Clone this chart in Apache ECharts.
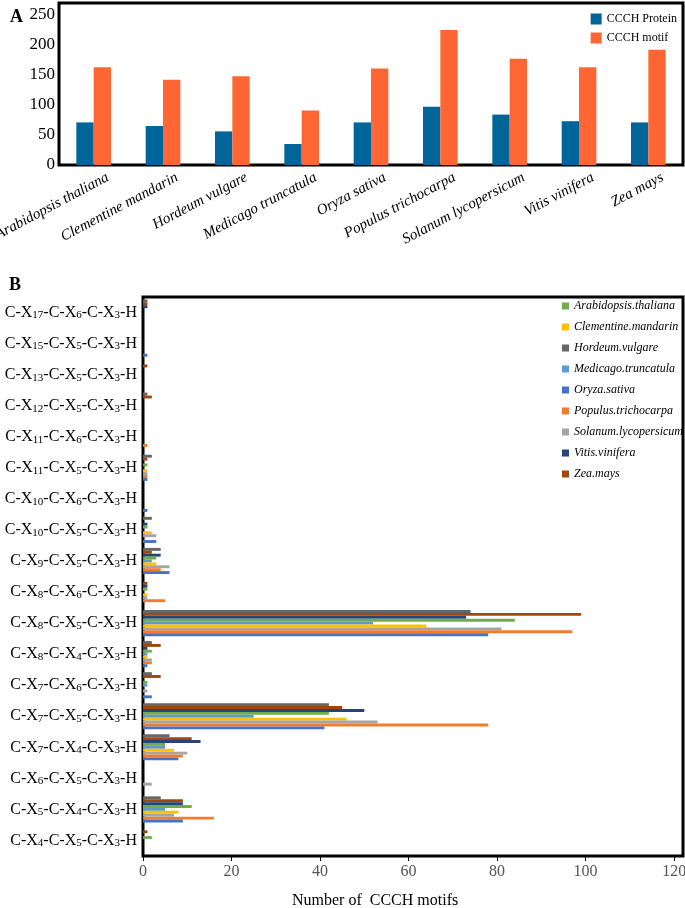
<!DOCTYPE html>
<html lang="en">
<head>
    <meta charset="UTF-8">
    <title>CCCH</title>
    <script src="https://cdn.jsdelivr.net/npm/echarts@6/dist/echarts.min.js"></script>
</head>
<style>
    body{
        margin: 0;
        background-color: #fff;
    }
    #chart{
        width: 685px;
        height: 908px;
    }
</style>
<body>
    <div id="chart"></div>
    <script>
        // panel A
        var species=['Arabidopsis thaliana','Clementine mandarin','Hordeum vulgare','Medicago truncatula','Oryza sativa','Populus trichocarpa','Solanum lycopersicum','Vitis vinifera','Zea mays'];
        var proteinCounts=[71,65,56,35,71,97,84,73,71];
        var motifCounts=[163,142,148,91,161,225,177,163,192];

        // panel B, motif types from bottom to top
        var motifTypes=['C-X4-C-X5-C-X3-H','C-X5-C-X4-C-X3-H','C-X6-C-X5-C-X3-H','C-X7-C-X4-C-X3-H','C-X7-C-X5-C-X3-H','C-X7-C-X6-C-X3-H','C-X8-C-X4-C-X3-H','C-X8-C-X5-C-X3-H','C-X8-C-X6-C-X3-H','C-X9-C-X5-C-X3-H','C-X10-C-X5-C-X3-H','C-X10-C-X6-C-X3-H','C-X11-C-X5-C-X3-H','C-X11-C-X6-C-X3-H','C-X12-C-X5-C-X3-H','C-X13-C-X5-C-X3-H','C-X15-C-X5-C-X3-H','C-X17-C-X6-C-X3-H'];
        var arabidopsis=[2,11,0,5,42,1,2,84,1,3,1,0,1,0,0,0,0,0];
        var clementine=[0,8,0,7,46,0,1,64,1,3,2,0,1,0,0,0,0,0];
        var hordeum=[0,4,0,6,42,2,2,74,0,4,2,0,2,0,1,0,0,1];
        var medicago=[0,5,0,5,25,1,1,52,0,2,0,0,0,0,0,0,0,0];
        var oryza=[0,9,0,8,41,2,1,78,0,6,3,1,1,0,0,0,1,0];
        var populus=[0,16,0,9,78,0,2,97,5,4,0,0,1,1,0,0,0,0];
        var solanum=[0,7,2,10,53,1,2,81,1,6,3,0,1,0,0,0,0,0];
        var vitis=[0,9,0,13,50,0,1,73,1,4,1,0,0,0,0,0,0,1];
        var zea=[1,9,0,11,45,4,4,99,1,2,0,0,1,0,2,1,0,1];

        var serif='"Liberation Serif","DejaVu Serif",serif';

        // order of bars inside one group, top to bottom
        var groupOrder=[
            ['Hordeum.vulgare',hordeum,'#666666'],
            ['Zea.mays',zea,'#9E480E'],
            ['Vitis.vinifera',vitis,'#264478'],
            ['Arabidopsis.thaliana',arabidopsis,'#70AD47'],
            ['Medicago.truncatula',medicago,'#5B9BD5'],
            ['Clementine.mandarin',clementine,'#FFC000'],
            ['Solanum.lycopersicum',solanum,'#A5A5A5'],
            ['Populus.trichocarpa',populus,'#ED7D31'],
            ['Oryza.sativa',oryza,'#4472C4']
        ];
        var seriesB=groupOrder.map(function(g){
            return {
                name:g[0],
                type:'bar',
                xAxisIndex:1,
                yAxisIndex:1,
                data:g[1],
                barGap:'0%',
                barCategoryGap:'16%',
                itemStyle:{color:g[2]}
            };
        });

        var chart=echarts.init(document.getElementById('chart'));
        chart.setOption({
            animation:false,
            title:[
                {text:'A',left:5,top:3,textStyle:{fontFamily:serif,fontSize:18,fontWeight:'bold',color:'#000'}},
                {text:'B',left:4,top:271,textStyle:{fontFamily:serif,fontSize:18,fontWeight:'bold',color:'#000'}},
                {text:'Number of  CCCH motifs',left:287,top:888,textStyle:{fontFamily:serif,fontSize:16,fontWeight:'normal',color:'#000'}}
            ],
            legend:[
                {
                    data:['CCCH Protein','CCCH motif'],
                    orient:'vertical',
                    right:3,
                    top:8,
                    icon:'rect',
                    itemWidth:11,
                    itemHeight:11,
                    itemGap:7,
                    textStyle:{fontFamily:serif,fontSize:12,color:'#000'}
                },
                {
                    data:['Arabidopsis.thaliana','Clementine.mandarin','Hordeum.vulgare','Medicago.truncatula','Oryza.sativa','Populus.trichocarpa','Solanum.lycopersicum','Vitis.vinifera','Zea.mays'],
                    orient:'vertical',
                    left:557,
                    top:295,
                    icon:'rect',
                    itemWidth:7,
                    itemHeight:7,
                    itemGap:9,
                    textStyle:{fontFamily:serif,fontSize:12,fontStyle:'italic',color:'#000'}
                }
            ],
            grid:[
                {left:59,right:2,top:3,height:162,outerBoundsMode:'none',show:true,borderColor:'#000',borderWidth:3,backgroundColor:'#fff'},
                {left:143,right:2,top:297,bottom:52,outerBoundsMode:'none',show:true,borderColor:'#000',borderWidth:3,backgroundColor:'#fff'}
            ],
            xAxis:[
                {
                    type:'category',
                    gridIndex:0,
                    data:species,
                    axisLine:{show:false},
                    axisTick:{show:false},
                    axisLabel:{interval:0,rotate:28,margin:19,padding:[0,-16,0,0],fontFamily:serif,fontSize:15,fontStyle:'italic',color:'#000'}
                },
                {
                    type:'value',
                    gridIndex:1,
                    min:0,
                    max:122,
                    interval:20,
                    splitLine:{show:false},
                    axisLine:{show:false},
                    axisTick:{show:true,length:5,lineStyle:{color:'#000'}},
                    axisLabel:{showMaxLabel:false,margin:8,fontFamily:serif,fontSize:16,color:'#555'}
                }
            ],
            yAxis:[
                {
                    type:'value',
                    gridIndex:0,
                    min:0,
                    max:270,
                    interval:50,
                    splitLine:{show:false},
                    axisLine:{show:false},
                    axisTick:{show:false},
                    axisLabel:{showMaxLabel:false,margin:4,fontFamily:serif,fontSize:17,color:'#000'}
                },
                {
                    type:'category',
                    gridIndex:1,
                    data:motifTypes,
                    axisLine:{show:false},
                    axisTick:{show:false},
                    axisLabel:{
                        margin:6,
                        formatter:function(v){
                            return v.replace(/X(\d+)/g,'X{s|$1}');
                        },
                        fontFamily:serif,
                        fontSize:16,
                        color:'#000',
                        rich:{
                            s:{fontFamily:serif,fontSize:11,color:'#000',verticalAlign:'bottom',padding:[6,0,0,0]}
                        }
                    }
                }
            ],
            series:[
                {
                    name:'CCCH Protein',
                    type:'bar',
                    data:proteinCounts,
                    barGap:'0%',
                    barCategoryGap:'50%',
                    itemStyle:{color:'#006699'}
                },
                {
                    name:'CCCH motif',
                    type:'bar',
                    data:motifCounts,
                    barCategoryGap:'50%',
                    itemStyle:{color:'#FF6633'}
                }
            ].concat(seriesB)
        });
    </script>
</body>
</html>
